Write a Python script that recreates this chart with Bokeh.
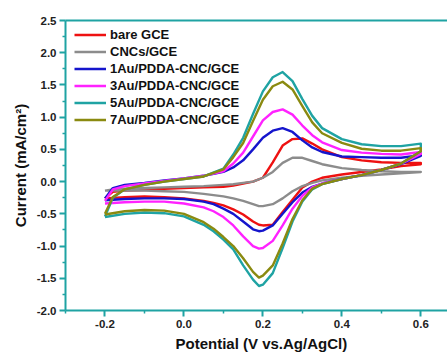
from bokeh.plotting import figure
from bokeh.models import (LinearAxis, FixedTicker, NumeralTickFormatter, Range1d,
                          Title, Legend)
from bokeh.embed import file_html
from bokeh.resources import INLINE

# ---------------- data ----------------
E_fwd = [-0.2, -0.18, -0.15, -0.1, -0.05, 0.0, 0.05, 0.1, 0.125, 0.15, 0.175, 0.2,
         0.225, 0.25, 0.275, 0.3, 0.325, 0.35, 0.4, 0.45, 0.5, 0.55, 0.6]
E_rev = [0.6, 0.55, 0.5, 0.45, 0.4, 0.35, 0.325, 0.3, 0.275, 0.25, 0.225, 0.2, 0.19,
         0.175, 0.15, 0.125, 0.1, 0.075, 0.05, 0.0, -0.05, -0.1, -0.15, -0.2]

names = ["bare GCE", "CNCs/GCE", "1Au/PDDA-CNC/GCE", "3Au/PDDA-CNC/GCE",
         "5Au/PDDA-CNC/GCE", "7Au/PDDA-CNC/GCE"]
colors = ["#ee1111", "#8c8c8c", "#1515cc", "#ff22ff", "#1fa3a3", "#8a8a10"]

bare_fwd = [-0.26, -0.16, -0.14, -0.13, -0.11, -0.10, -0.09, -0.08, -0.06, -0.03, 0.0, 0.06,
            0.30, 0.56, 0.66, 0.67, 0.59, 0.50, 0.38, 0.33, 0.30, 0.29, 0.29]
bare_rev = [0.27, 0.24, 0.19, 0.15, 0.11, 0.06, 0.0, -0.09, -0.28, -0.47, -0.67, -0.68, -0.67,
            -0.62, -0.51, -0.43, -0.37, -0.33, -0.30, -0.26, -0.24, -0.23, -0.24, -0.26]
cnc_fwd = [-0.14, -0.12, -0.11, -0.10, -0.09, -0.08, -0.07, -0.05, -0.04, -0.02, 0.0, 0.06,
           0.15, 0.29, 0.37, 0.37, 0.32, 0.27, 0.21, 0.18, 0.16, 0.15, 0.15]
cnc_rev = [0.15, 0.13, 0.11, 0.09, 0.06, 0.02, -0.02, -0.07, -0.15, -0.26, -0.35, -0.38, -0.38,
           -0.35, -0.30, -0.26, -0.23, -0.21, -0.19, -0.16, -0.15, -0.14, -0.14, -0.14]
au1_fwd = [-0.26, -0.10, -0.05, -0.02, 0.02, 0.05, 0.09, 0.15, 0.22, 0.33, 0.50, 0.68,
           0.79, 0.83, 0.77, 0.64, 0.53, 0.46, 0.39, 0.38, 0.37, 0.37, 0.41]
au1_rev = [0.40, 0.27, 0.18, 0.10, 0.04, -0.03, -0.08, -0.17, -0.32, -0.50, -0.68, -0.76, -0.77,
           -0.74, -0.62, -0.50, -0.42, -0.35, -0.31, -0.27, -0.26, -0.26, -0.27, -0.29]
au3_fwd = [-0.30, -0.12, -0.07, -0.03, 0.01, 0.05, 0.09, 0.16, 0.28, 0.45, 0.70, 0.95,
           1.08, 1.12, 1.04, 0.87, 0.72, 0.61, 0.49, 0.45, 0.43, 0.42, 0.46]
au3_rev = [0.43, 0.28, 0.18, 0.10, 0.04, -0.03, -0.09, -0.22, -0.42, -0.68, -0.92, -1.03, -1.04,
           -1.00, -0.85, -0.68, -0.55, -0.46, -0.40, -0.34, -0.31, -0.31, -0.32, -0.34]
au5_fwd = [-0.54, -0.25, -0.12, -0.05, 0.0, 0.04, 0.08, 0.20, 0.42, 0.68, 1.05, 1.40,
           1.62, 1.70, 1.56, 1.28, 1.02, 0.83, 0.66, 0.58, 0.55, 0.55, 0.59]
au5_rev = [0.47, 0.28, 0.18, 0.10, 0.04, -0.04, -0.12, -0.31, -0.62, -1.03, -1.42, -1.60, -1.62,
           -1.52, -1.30, -1.05, -0.90, -0.77, -0.67, -0.54, -0.49, -0.48, -0.50, -0.55]
au7_fwd = [-0.50, -0.24, -0.12, -0.05, 0.0, 0.04, 0.08, 0.19, 0.38, 0.60, 0.94, 1.27,
           1.48, 1.55, 1.43, 1.17, 0.92, 0.75, 0.60, 0.51, 0.48, 0.48, 0.52]
au7_rev = [0.47, 0.28, 0.18, 0.10, 0.04, -0.04, -0.11, -0.29, -0.58, -0.96, -1.30, -1.46, -1.49,
           -1.40, -1.19, -1.00, -0.86, -0.73, -0.63, -0.50, -0.45, -0.44, -0.46, -0.51]

forward = [bare_fwd, cnc_fwd, au1_fwd, au3_fwd, au5_fwd, au7_fwd]
reverse = [bare_rev, cnc_rev, au1_rev, au3_rev, au5_rev, au7_rev]

x_major = [-0.2, 0.0, 0.2, 0.4, 0.6]
x_minor = [-0.3, -0.1, 0.1, 0.3, 0.5]
y_major = [-2.0, -1.5, -1.0, -0.5, 0.0, 0.5, 1.0, 1.5, 2.0, 2.5]
y_minor = [-1.75, -1.25, -0.75, -0.25, 0.25, 0.75, 1.25, 1.75, 2.25]

x_title = "Potential (V vs.Ag/AgCl)"
y_title = "Current (mA/cm\u00b2)"

# ---------------- figure ----------------
AX = "#1fa3a3"
FONT = "Liberation Sans"

p = figure(width=447, height=357, output_backend="svg", toolbar_location=None,
           x_range=Range1d(-0.3, 0.6676), y_range=Range1d(-2.0, 2.5),
           min_border_left=65, min_border_top=20, min_border_bottom=47, min_border_right=0,
           x_axis_location=None, y_axis_location=None)
p.outline_line_color = None
p.grid.visible = False
p.background_fill_color = "white"
p.border_fill_color = "white"

def style_axis(ax, ticks, minor):
    ax.ticker = FixedTicker(ticks=ticks, minor_ticks=minor)
    ax.formatter = NumeralTickFormatter(format="0.0")
    ax.axis_line_color = AX
    ax.axis_line_width = 2
    ax.major_tick_line_color = AX
    ax.major_tick_line_width = 2
    ax.major_tick_out = 6
    ax.major_tick_in = 0
    ax.minor_tick_line_color = AX
    ax.minor_tick_line_width = 1.5
    ax.minor_tick_out = 3
    ax.minor_tick_in = 0
    ax.major_label_text_font = FONT
    ax.major_label_text_font_style = "bold"
    ax.major_label_text_font_size = "11.5px"
    ax.major_label_text_color = "#222222"
    ax.major_label_standoff = 3

xa = LinearAxis()
style_axis(xa, x_major, x_minor)
p.add_layout(xa, "below")
ya = LinearAxis()
style_axis(ya, y_major, y_minor)
p.add_layout(ya, "left")

top = LinearAxis(ticker=FixedTicker(ticks=[]), axis_line_color=AX, axis_line_width=2,
                 major_tick_line_color=None, minor_tick_line_color=None,
                 major_label_text_font_size="0px")
p.add_layout(top, "above")

items = []
for name, col, f, r in zip(names, colors, forward, reverse):
    xs = E_fwd + E_rev
    ys = f + r
    gl = p.line(xs, ys, line_color=col, line_width=2.4, line_join="round")
    items.append((name, [gl]))

leg = Legend(items=items, location=(9, 183))
leg.border_line_color = None
leg.background_fill_alpha = 0
leg.padding = 0
leg.margin = 0
leg.spacing = 2
leg.glyph_width = 32
leg.glyph_height = 15
leg.label_height = 15
leg.label_standoff = 4
leg.label_text_font = FONT
leg.label_text_font_style = "bold"
leg.label_text_font_size = "13px"
leg.label_text_color = "#111111"
p.add_layout(leg, "center")

ytitle = Title(text=y_title, align="center", offset=23, standoff=10,
               text_font=FONT, text_font_style="bold", text_font_size="15px",
               text_color="#111111")
p.add_layout(ytitle, "left")
xtitle = Title(text=x_title, align="left", offset=110, standoff=5,
               text_font=FONT, text_font_style="bold", text_font_size="15px",
               text_color="#111111")
p.add_layout(xtitle, "below")

open("out.html", "w").write(file_html(p, INLINE))
